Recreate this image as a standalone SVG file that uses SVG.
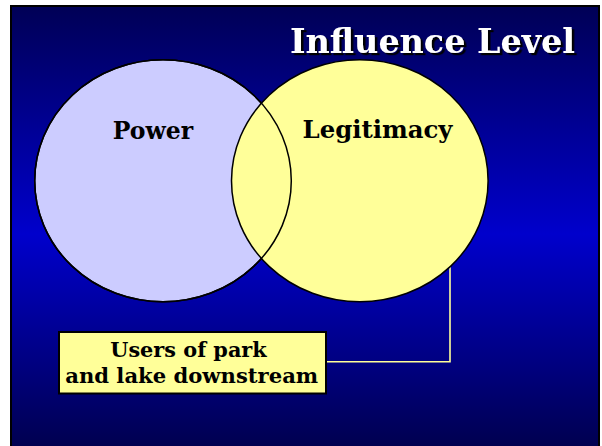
<svg xmlns="http://www.w3.org/2000/svg" width="602" height="446" viewBox="0 0 602 446">
  <defs>
    <linearGradient id="bg" x1="0" y1="5" x2="0" y2="446" gradientUnits="userSpaceOnUse">
      <stop offset="0" stop-color="#000055"/>
      <stop offset="0.52" stop-color="#0000CC"/>
      <stop offset="1" stop-color="#000050"/>
    </linearGradient>
    <filter id="shadow" x="-5%" y="-20%" width="115%" height="150%">
      <feDropShadow dx="2.5" dy="2.2" stdDeviation="0" flood-color="#000000" flood-opacity="1"/>
    </filter>
  </defs>
  <style>
    .lbl { font-family: "DejaVu Serif", "Liberation Serif", serif; font-weight: bold; fill: #000000; }
    .title { font-family: "DejaVu Serif", "Liberation Serif", serif; font-weight: bold; font-size: 33px; fill: #FFFFFF; }
    .conn { fill: none; stroke: #FFFF99; stroke-width: 1.6; }
    .outline { stroke: #000000; stroke-width: 1.5; }
  </style>
  <rect x="0" y="0" width="602" height="446" fill="#FFFFFF"/>
  <rect x="11" y="6" width="588" height="445" fill="url(#bg)" stroke="#000000" stroke-width="2"/>

  <g id="title">
    <text class="title" x="432.5" y="53.3" text-anchor="middle" textLength="285" lengthAdjust="spacingAndGlyphs" filter="url(#shadow)">Influence Level</text>
  </g>

  <g id="connectors">
    <polyline class="conn" points="326.7,361.7 450,361.7 450,267"/>
  </g>

  <g id="power">
    <ellipse cx="163" cy="180.8" rx="128.3" ry="121" fill="#CCCCFF" class="outline"/>
  </g>
  <g id="legitimacy">
    <ellipse cx="359.8" cy="180.8" rx="128.3" ry="121" fill="#FFFF99" class="outline"/>
  </g>
  <ellipse cx="163" cy="180.8" rx="128.3" ry="121" fill="none" class="outline"/>
  <text class="lbl" x="153" y="139" text-anchor="middle" font-size="24" textLength="80.5" lengthAdjust="spacingAndGlyphs">Power</text>
  <text class="lbl" x="377.5" y="138" text-anchor="middle" font-size="24" textLength="150" lengthAdjust="spacingAndGlyphs">Legitimacy</text>

  <g id="users">
    <rect x="59" y="332" width="267" height="61.5" fill="#FFFF99" stroke="#000000" stroke-width="2"/>
    <text class="lbl" x="188.5" y="356.7" text-anchor="middle" font-size="20.5" textLength="156.5" lengthAdjust="spacingAndGlyphs">Users of park</text>
    <text class="lbl" x="191.7" y="383.3" text-anchor="middle" font-size="20.5" textLength="253" lengthAdjust="spacingAndGlyphs">and lake downstream</text>
  </g>
</svg>
